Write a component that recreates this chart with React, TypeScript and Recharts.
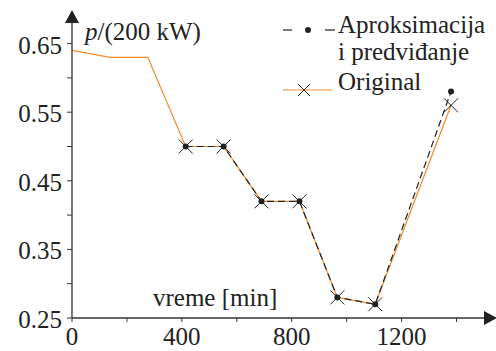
import React from 'react';
import {
  LineChart,
  Line,
  XAxis,
  YAxis,
  ReferenceDot,
  Label,
} from 'recharts';

const minutes = [0, 138, 276, 414, 552, 690, 828, 966, 1104, 1380];
const original = [0.64, 0.63, 0.63, 0.5, 0.5, 0.42, 0.42, 0.28, 0.27, 0.56];
const approx = [null, null, null, 0.5, 0.5, 0.42, 0.42, 0.28, 0.27, 0.58];

const xTicks = [0, 200, 400, 600, 800, 1000, 1200, 1400];
const xLabeled = [0, 400, 800, 1200];
const yTicks = [0.25, 0.3, 0.35, 0.4, 0.45, 0.5, 0.55, 0.6, 0.65];
const yLabeled = [0.25, 0.35, 0.45, 0.55, 0.65];

const data = minutes.map((t, i) => ({ t, original: original[i], approx: approx[i] }));

const FONT = '"Liberation Serif", "Times New Roman", serif';
const FS = 25;
const INK = '#222';
const ORANGE = '#f28a2a';

const XTick = (props: any) => {
  const { x, y, payload } = props;
  if (!xLabeled.includes(payload.value)) return <g />;
  return (
    <text x={x} y={y} dy={21} textAnchor="middle" fontSize={FS} style={{ fontFamily: FONT }} fill={INK}>
      {payload.value}
    </text>
  );
};

const YTick = (props: any) => {
  const { x, y, payload } = props;
  if (!yLabeled.some((v) => Math.abs(v - payload.value) < 1e-6)) return <g />;
  return (
    <text x={x - 3} y={y} dy={10} textAnchor="end" fontSize={FS} style={{ fontFamily: FONT }} fill={INK}>
      {payload.value.toFixed(2)}
    </text>
  );
};

const CrossDot = (props: any) => {
  const { cx, cy, index } = props;
  if (index < 3 || cx == null || cy == null) return <g key={'c' + index} />;
  const s = 7;
  return (
    <g key={'c' + index} stroke={INK} strokeWidth={1}>
      <line x1={cx - s} y1={cy - s} x2={cx + s} y2={cy + s} />
      <line x1={cx - s} y1={cy + s} x2={cx + s} y2={cy - s} />
    </g>
  );
};

const BlackDot = (props: any) => {
  const { cx, cy, index } = props;
  if (cx == null || cy == null) return <g key={'b' + index} />;
  return <circle key={'b' + index} cx={cx} cy={cy} r={3} fill={INK} />;
};

const ArrowRight = (props: any) => {
  const { cx, cy } = props;
  return <path d={`M${cx} ${cy - 7} L${cx + 13} ${cy} L${cx} ${cy + 7} Z`} fill={INK} />;
};

const ArrowUp = (props: any) => {
  const { cx, cy } = props;
  return <path d={`M${cx - 7} ${cy} L${cx} ${cy - 13} L${cx + 7} ${cy} Z`} fill={INK} />;
};

// legend drawn as an overlay, top-right of the plot
const LegendBox = () => (
  <svg
    width={214}
    height={100}
    style={{ position: 'absolute', left: 282, top: 0 }}
    fontSize={FS}
    fontFamily={FONT}
  >
    <line x1={1} y1={30} x2={10} y2={30} stroke={INK} strokeWidth={1.2} />
    <circle cx={26} cy={30} r={3} fill={INK} />
    <line x1={43} y1={30} x2={53} y2={30} stroke={INK} strokeWidth={1.2} />
    <text x={56} y={33} fill={INK} style={{ fontFamily: FONT }}>Aproksimacija</text>
    <text x={56} y={60} fill={INK} style={{ fontFamily: FONT }}>i predviđanje</text>
    <line x1={1} y1={90} x2={50} y2={90} stroke={ORANGE} strokeWidth={1.2} />
    <line x1={16} y1={84} x2={28} y2={96} stroke={INK} strokeWidth={1} />
    <line x1={16} y1={96} x2={28} y2={84} stroke={INK} strokeWidth={1} />
    <text x={56} y={90} fill={INK} style={{ fontFamily: FONT }}>Original</text>
  </svg>
);

export default function App() {
  return (
    <div style={{ position: 'absolute', left: 0, top: 0, width: 496, height: 351, background: '#fff' }}>
      <LineChart width={496} height={351} data={data} margin={{ top: 23, right: 12, bottom: 0, left: 0 }}>
        <XAxis
          type="number"
          dataKey="t"
          domain={[0, 1500]}
          ticks={xTicks}
          tick={<XTick />}
          tickSize={4}
          height={33}
          stroke="#333"
          axisLine={{ stroke: '#333', strokeWidth: 1.3 }}
          interval={0}
          allowDataOverflow
        >
          <Label
            content={(p: any) => {
              const vb = p.viewBox || {};
              return (
                <text x={153} y={vb.y - 12} fontSize={FS} style={{ fontFamily: FONT }} fill={INK}>
                  vreme [min]
                </text>
              );
            }}
          />
        </XAxis>
        <YAxis
          type="number"
          domain={[0.25, 0.68]}
          ticks={yTicks}
          tick={<YTick />}
          tickSize={5}
          width={72}
          stroke="#333"
          axisLine={{ stroke: '#333', strokeWidth: 1.3 }}
          interval={0}
          allowDataOverflow
        >
          <Label
            content={(p: any) => {
              const vb = p.viewBox || {};
              return (
                <text x={vb.x + vb.width + 13} y={40} fontSize={FS} style={{ fontFamily: FONT }} fill={INK}>
                  <tspan fontStyle="italic">p</tspan>/(200 kW)
                </text>
              );
            }}
          />
        </YAxis>
        <Line
          dataKey="original"
          stroke={ORANGE}
          strokeWidth={1.2}
          dot={<CrossDot />}
          activeDot={false}
          isAnimationActive={false}
        />
        <Line
          dataKey="approx"
          stroke={INK}
          strokeWidth={1.2}
          strokeDasharray="7 4"
          dot={<BlackDot />}
          activeDot={false}
          connectNulls={false}
          isAnimationActive={false}
        />
        <ReferenceDot x={1500} y={0.25} ifOverflow="visible" shape={<ArrowRight />} />
        <ReferenceDot x={0} y={0.68} ifOverflow="visible" shape={<ArrowUp />} />
      </LineChart>
      <LegendBox />
    </div>
  );
}
